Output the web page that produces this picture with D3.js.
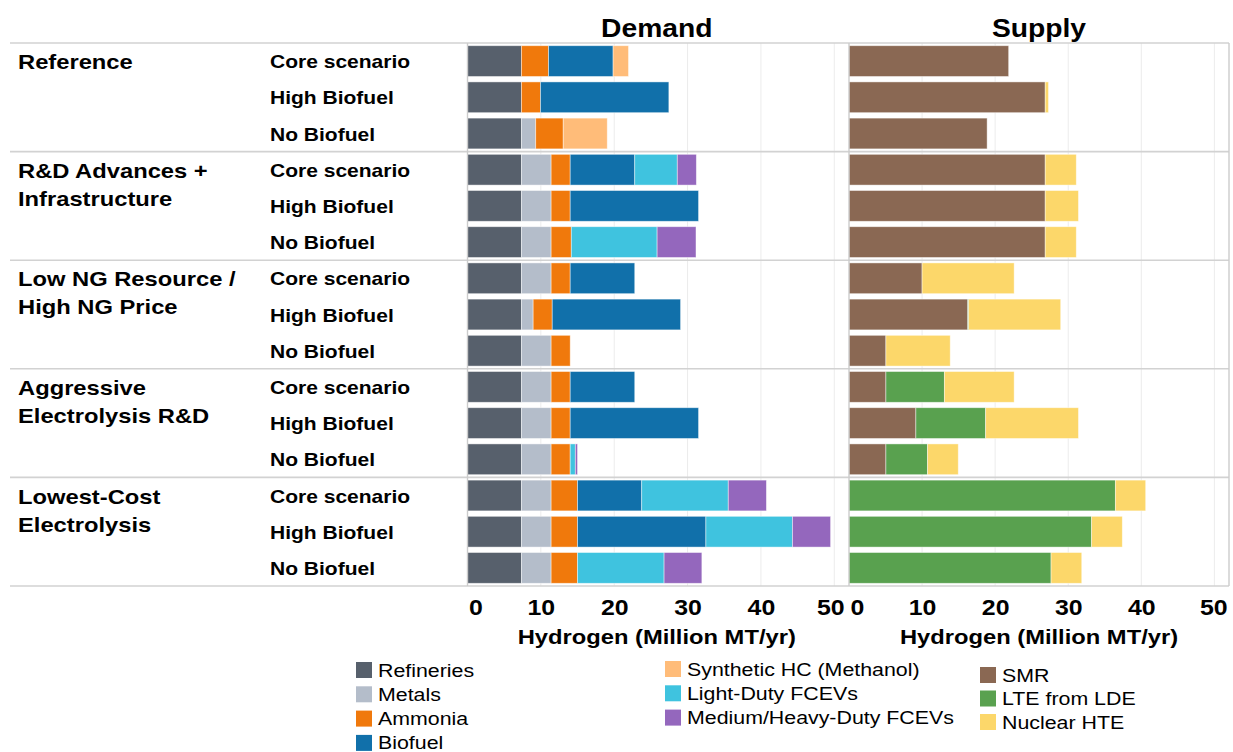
<!DOCTYPE html>
<html>
<head>
<meta charset="utf-8">
<script src="https://cdn.jsdelivr.net/npm/d3@7"></script>
<style>
  html, body { margin: 0; padding: 0; background: #fff; }
  svg { display: block; font-family: "Liberation Sans", Arial, sans-serif; }
</style>
</head>
<body>
<svg id="chart" width="1233" height="752"></svg>
<script>
// ---------------- DATA ----------------
const groupLabels = [
  ["Reference"],
  ["R&D Advances +", "Infrastructure"],
  ["Low NG Resource /", "High NG Price"],
  ["Aggressive", "Electrolysis R&D"],
  ["Lowest-Cost", "Electrolysis"]
];
const scenarios = ["Core scenario", "High Biofuel", "No Biofuel"];

const demandCategories = ["Refineries", "Metals", "Ammonia", "Biofuel",
  "Synthetic HC (Methanol)", "Light-Duty FCEVs", "Medium/Heavy-Duty FCEVs"];
const supplyCategories = ["SMR", "LTE from LDE", "Nuclear HTE"];

// demand, Million MT/yr, 15 rows (5 groups x 3 scenarios)
const refineries = [7.35, 7.35, 7.35, 7.35, 7.35, 7.35, 7.35, 7.35, 7.35, 7.35, 7.35, 7.35, 7.35, 7.35, 7.35];
const metals     = [0, 0, 1.95, 4.05, 4.05, 4.05, 4.05, 1.6, 4.05, 4.05, 4.05, 4.05, 4.05, 4.05, 4.05];
const ammonia    = [3.7, 2.6, 3.75, 2.6, 2.6, 2.75, 2.6, 2.6, 2.6, 2.6, 2.6, 2.6, 3.6, 3.6, 3.6];
const biofuel    = [8.8, 17.5, 0, 8.8, 17.5, 0, 8.8, 17.5, 0, 8.8, 17.5, 0, 8.75, 17.5, 0];
const syntheticHC= [2.1, 0, 6.0, 0, 0, 0, 0, 0, 0, 0, 0, 0, 0, 0, 0];
const lightDuty  = [0, 0, 0, 5.8, 0, 11.7, 0, 0, 0, 0, 0, 0.7, 11.8, 11.8, 11.8];
const mhDuty     = [0, 0, 0, 2.6, 0, 5.3, 0, 0, 0, 0, 0, 0.3, 5.2, 5.2, 5.15];

// supply, Million MT/yr
const smr        = [21.85, 26.85, 18.9, 26.85, 26.85, 26.85, 10.0, 16.25, 5.05, 5.05, 9.15, 5.05, 0, 0, 0];
const lte        = [0, 0, 0, 0, 0, 0, 0, 0.12, 0, 8.0, 9.55, 5.7, 36.45, 33.2, 27.65];
const hte        = [0, 0.45, 0, 4.25, 4.55, 4.25, 12.6, 12.6, 8.8, 9.55, 12.7, 4.2, 4.15, 4.2, 4.2];

const tickValues = [0, 10, 20, 30, 40, 50];
const axisTitle = "Hydrogen (Million MT/yr)";
const panelTitles = ["Demand", "Supply"];

// ---------------- STYLE ----------------
const demandColors = ["#57606c", "#b4bdca", "#f0790c", "#1170aa", "#ffbc79", "#3fc3df", "#9467bd"];
const supplyColors = ["#8a6853", "#59a14f", "#fcd76a"];
const STRETCH = 1.13;

// ---------------- BUILD ----------------
const demandSeries = [refineries, metals, ammonia, biofuel, syntheticHC, lightDuty, mhDuty];
const supplySeries = [smr, lte, hte];

const rows = [];
groupLabels.forEach((g, gi) => scenarios.forEach((s, si) => rows.push({ id: gi * 3 + si, group: gi, scen: s })));
const demandTable = rows.map(r => { const o = { id: r.id }; demandCategories.forEach((c, k) => o[c] = demandSeries[k][r.id]); return o; });
const supplyTable = rows.map(r => { const o = { id: r.id }; supplyCategories.forEach((c, k) => o[c] = supplySeries[k][r.id]); return o; });

const svg = d3.select("#chart");
const plotTop = 43, plotBottom = 586, plotLeft = 10, plotRight = 1229;

const y = d3.scaleBand().domain(rows.map(r => r.id)).range([plotTop, plotBottom]).paddingInner(0.15).paddingOuter(0.075);
const xD = d3.scaleLinear().domain([0, 51.6]).range([467.5, 846]);
const xS = d3.scaleLinear().domain([0, 52]).range([849, 1229]);

function stretch(sel) {
  sel.each(function () {
    const len = this.getComputedTextLength();
    d3.select(this).attr("textLength", len * STRETCH).attr("lengthAdjust", "spacingAndGlyphs");
  });
}

// gridlines
[xD, xS].forEach(x => {
  svg.append("g").selectAll("line").data(tickValues.filter(t => t > 0)).join("line")
    .attr("x1", d => x(d)).attr("x2", d => x(d)).attr("y1", plotTop).attr("y2", plotBottom)
    .attr("stroke", "#ececec").attr("stroke-width", 1);
});

// bars
function drawStack(table, cats, colors, x) {
  const stack = d3.stack().keys(cats)(table);
  const g = svg.append("g");
  stack.forEach((layer, k) => {
    g.append("g").attr("fill", colors[k]).selectAll("rect")
      .data(layer.filter(d => d[1] - d[0] > 0)).join("rect")
      .attr("x", d => x(d[0])).attr("width", d => x(d[1]) - x(d[0]))
      .attr("y", d => y(d.data.id)).attr("height", y.bandwidth())
      .attr("stroke", "rgba(255,255,255,0.55)").attr("stroke-width", 0.8);
  });
}
drawStack(demandTable, demandCategories, demandColors, xD);
drawStack(supplyTable, supplyCategories, supplyColors, xS);

// horizontal separators
const sepYs = [plotTop];
for (let gi = 1; gi < groupLabels.length; gi++) sepYs.push(y(gi * 3) - y.step() * y.paddingInner() / 2);
sepYs.push(plotBottom);
svg.append("g").selectAll("line").data(sepYs).join("line")
  .attr("x1", plotLeft).attr("x2", plotRight).attr("y1", d => d).attr("y2", d => d)
  .attr("stroke", "#d2d2d2").attr("stroke-width", 1.6);

// vertical axis lines
[xD(0), xS(0), plotRight].forEach(xx => {
  svg.append("line").attr("x1", xx).attr("x2", xx).attr("y1", plotTop).attr("y2", plotBottom)
    .attr("stroke", "#cccccc").attr("stroke-width", 1.4);
});

// row labels
svg.append("g").selectAll("text").data(rows).join("text")
  .attr("x", 270).attr("y", d => y(d.id) + y.bandwidth() / 2 + 7)
  .attr("font-size", 18.6).attr("font-weight", "bold").attr("fill", "#000")
  .text(d => d.scen).call(stretch);

groupLabels.forEach((lines, gi) => {
  const cy = y(gi * 3) + y.bandwidth() / 2 + 8;
  lines.forEach((ln, li) => {
    svg.append("text").attr("x", 18).attr("y", cy + li * 28)
      .attr("font-size", 21).attr("font-weight", "bold").attr("fill", "#000")
      .text(ln).call(stretch);
  });
});

// titles
[[xD, panelTitles[0]], [xS, panelTitles[1]]].forEach(([x, t]) => {
  const r = x.range();
  svg.append("text").attr("x", (r[0] + r[1]) / 2).attr("y", 37)
    .attr("text-anchor", "middle").attr("font-size", 25).attr("font-weight", "bold")
    .text(t).call(stretch);
});

// axes
[xD, xS].forEach(x => {
  const r = x.range();
  const ax = d3.axisBottom(x).tickValues(tickValues).tickSize(0).tickPadding(0);
  const g = svg.append("g").attr("transform", `translate(0,${plotBottom})`).call(ax);
  g.select(".domain").remove();
  g.selectAll("text").attr("font-size", 22).attr("font-weight", "bold").attr("fill", "#000")
    .attr("font-family", "Liberation Sans, Arial, sans-serif").attr("dy", null).attr("y", 29)
    .call(stretch)
    .each(function (d) {
      // keep labels inside pane
      const w = this.getComputedTextLength() * STRETCH;
      const tx = x(d);
      let shift = 0;
      if (tx - w / 2 < r[0]) shift = r[0] - (tx - w / 2);
      if (tx + w / 2 > r[1]) shift = r[1] - (tx + w / 2);
      d3.select(this).attr("x", shift);
    });
  svg.append("text").attr("x", (r[0] + r[1]) / 2).attr("y", 644)
    .attr("text-anchor", "middle").attr("font-size", 21).attr("font-weight", "bold")
    .text(axisTitle).call(stretch);
});

// legends
const legendItems = [];
demandCategories.forEach((c, k) => {
  const col = k < 4 ? 0 : 1;
  const row = k < 4 ? k : k - 4;
  legendItems.push({ name: c, color: demandColors[k], x: col === 0 ? 356 : 665, y: 670 + row * 24.3 - (col === 1 ? 1 : 0) });
});
supplyCategories.forEach((c, k) => legendItems.push({ name: c, color: supplyColors[k], x: 980, y: 675 + k * 23.5 }));

const lg = svg.append("g").selectAll("g").data(legendItems).join("g")
  .attr("transform", d => `translate(${d.x},${d.y})`);
lg.append("rect").attr("x", 0).attr("y", -8).attr("width", 16).attr("height", 16).attr("fill", d => d.color);
lg.append("text").attr("x", 22).attr("y", 6.5).attr("font-size", 18.9).attr("fill", "#000")
  .text(d => d.name).call(stretch);
</script>
</body>
</html>
